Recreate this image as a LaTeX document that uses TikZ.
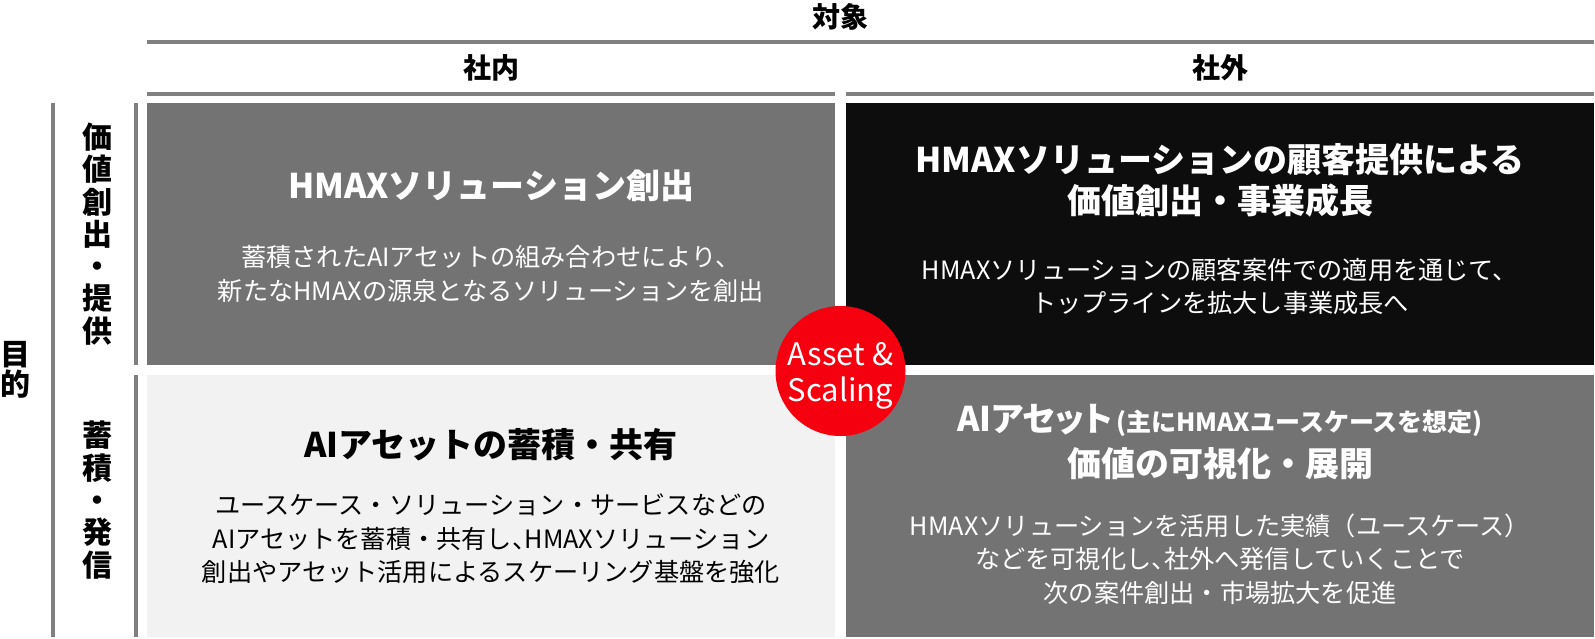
\documentclass[tikz,border=0pt]{standalone}
\usepackage{fontspec}
\setmainfont{Noto Sans CJK JP}

\definecolor{rulegray}{HTML}{808080}
\definecolor{cellgray}{HTML}{737373}
\definecolor{cellblack}{HTML}{0D0D0D}
\definecolor{celllight}{HTML}{F2F2F2}
\definecolor{scalered}{HTML}{F5000F}

% half-width comma inside a line
\newcommand\halfcomma{\hbox to .5em{、\hss}}

\tikzset{
  rule/.style={line width=4pt, draw=rulegray},
  head/.style={font=\bfseries\fontsize{28}{32}\selectfont},
  side/.style={font=\bfseries\fontsize{30}{32.3}\selectfont, align=center, inner sep=0pt},
  title/.style={font=\bfseries\fontsize{34}{41}\selectfont, align=center},
  body/.style={font=\fontsize{25.2}{33.5}\selectfont, align=center},
}

\begin{document}
\begin{tikzpicture}[x=1pt,y=-1pt]

        \useasboundingbox (0,0) rectangle (1595,638);

        % header
        \node[head] (target) at (840,17) {対象};
        \draw[rule] (147,42) -- (1594,42);
        \node[head] (inside) at (491,68) {社内};
        \node[head] (outside) at (1220,68) {社外};
        \draw[rule] (147,93.5) -- (835,93.5);
        \draw[rule] (846,93.5) -- (1594,93.5);

        % side labels
        \draw[rule] (53,103) -- (53,637);
        \draw[rule] (136,103) -- (136,365);
        \draw[rule] (136,375) -- (136,637);
        \node[side, font=\bfseries\fontsize{30}{30}\selectfont] (purpose) at (16,370) {目\\的};
        \node[side] (create) at (97,234) {価\\値\\創\\出\\・\\提\\供};
        \node[side] (store) at (97,500) {蓄\\積\\・\\発\\信};

        % cells
        \fill[cellgray] (147,103) rectangle (835,365);
        \fill[cellblack] (846,103) rectangle (1594,365);
        \fill[celllight] (147,375) rectangle (835,637);
        \fill[cellgray] (846,375) rectangle (1594,637);

        \node[title, text=white] (tltitle) at (491,186) {HMAXソリューション創出};
        \node[body, text=white] (tlbody) at (491,274) {蓄積されたAIアセットの組み合わせにより、\\新たなHMAXの源泉となるソリューションを創出};

        \node[title, text=white] (trtitle) at (1220,180) {HMAXソリューションの顧客提供による\\価値創出・事業成長};
        \node[body, text=white] (trbody) at (1220,286.5) {HMAXソリューションの顧客案件での適用を通じて、\\トップラインを拡大し事業成長へ};

        \node[title] (bltitle) at (491,445) {AIアセットの蓄積・共有};
        \node[body] (blbody) at (491,539) {ユースケース・ソリューション・サービスなどの\\AIアセットを蓄積・共有し\halfcomma HMAXソリューション\\創出やアセット活用によるスケーリング基盤を強化};

        \node[title, text=white] (brtitle) at (1220,442) {{\addfontfeatures{RawFeature=+palt}AIアセット}{\fontsize{25}{28}\selectfont\,(主にHMAXユースケースを想定)}\\[4pt]価値の可視化・展開};
        \node[body, text=white] (brbody) at (1220,559) {HMAXソリューションを活用した実績（ユースケース）\\などを可視化し\halfcomma 社外へ発信していくことで\\次の案件創出・市場拡大を促進};

        % centre badge
        \fill[scalered] (840.5,371) circle (65);
        \node[text=white, align=center, font=\fontsize{31}{36}\selectfont] (badge) at (840.5,376) {Asset \&\\Scaling};

\end{tikzpicture}
\end{document}
